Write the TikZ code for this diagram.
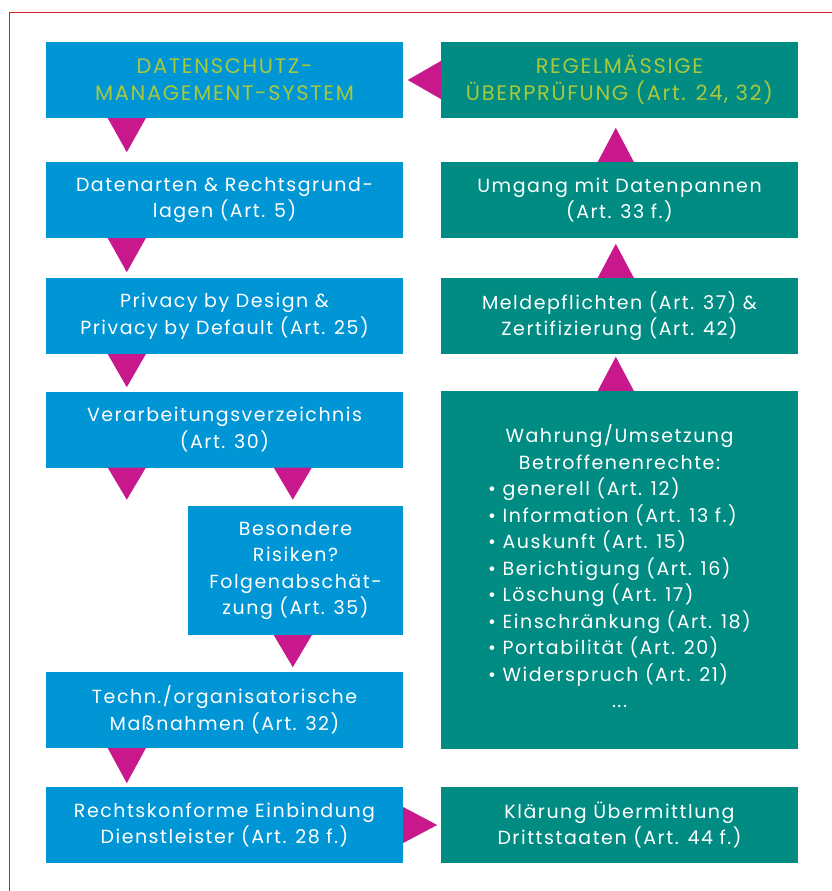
\documentclass[tikz,border=0pt]{standalone}
\usepackage{fontspec}
\setmainfont{Poppins}[LetterSpace=8]
\definecolor{dsblau}{HTML}{0096D6}
\definecolor{dsgruen}{HTML}{008C82}
\definecolor{dspink}{HTML}{C8188C}
\definecolor{dslime}{HTML}{A8C83C}
\definecolor{dsrot}{HTML}{D2202A}
\tikzset{
  kasten/.style={fill=#1, text=white, minimum width=357pt, minimum height=76pt,
    inner sep=0pt, align=center, font=\fontsize{19}{26.5}\selectfont},
  titel/.style={text=dslime, font=\fontsize{21}{27}\selectfont},
  pfeil/.style={fill=dspink}
}
\begin{document}
\begin{tikzpicture}[x=1pt,y=1pt]
   \useasboundingbox (0,0) rectangle (832,-891);
   \draw[dsrot,line width=1.2pt] (9.5,-891) -- (9.5,-12.5) -- (832,-12.5);
   % linke Spalte
   \node[kasten=dsblau,titel] (dms) at (224.5,-80) {DATENSCHUTZ-\\MANAGEMENT-SYSTEM};
   \node[kasten=dsblau] (arten) at (224.5,-200) {Datenarten \& Rechtsgrund-\\lagen (Art. 5)};
   \node[kasten=dsblau] (privacy) at (224.5,-316) {Privacy by Design \&\\Privacy by Default (Art. 25)};
   \node[kasten=dsblau] (verz) at (224.5,-429.5) {Verarbeitungsverzeichnis\\(Art. 30)};
   \node[kasten=dsblau,minimum width=215pt,minimum height=129pt] (risiko) at (295.5,-570.5) {Besondere\\Risiken?\\Folgenabschät-\\zung (Art. 35)};
   \node[kasten=dsblau] (massn) at (224.5,-710) {Techn./organisatorische\\Maßnahmen (Art. 32)};
   \node[kasten=dsblau] (dienst) at (224.5,-825) {Rechtskonforme Einbindung\\Dienstleister (Art. 28 f.)};
   % rechte Spalte
   \node[kasten=dsgruen,titel] (pruef) at (619.5,-80) {REGELMÄSSIGE\\ÜBERPRÜFUNG (Art. 24, 32)};
   \node[kasten=dsgruen] (pannen) at (619.5,-200) {Umgang mit Datenpannen\\(Art. 33 f.)};
   \node[kasten=dsgruen] (melde) at (619.5,-316) {Meldepflichten (Art. 37) \&\\Zertifizierung (Art. 42)};
   \node[kasten=dsgruen,minimum height=358pt] (rechte) at (619.5,-570) {%
     \begin{tabular}{@{}l@{}}
       \multicolumn{1}{@{}c@{}}{Wahrung/Umsetzung}\\
       \multicolumn{1}{@{}c@{}}{Betroffenenrechte:}\\
       • generell (Art. 12)\\
       • Information (Art. 13 f.)\\
       • Auskunft (Art. 15)\\
       • Berichtigung (Art. 16)\\
       • Löschung (Art. 17)\\
       • Einschränkung (Art. 18)\\
       • Portabilität (Art. 20)\\
       • Widerspruch (Art. 21)\\
       \multicolumn{1}{@{}c@{}}{...}
     \end{tabular}};
   \node[kasten=dsgruen] (dritt) at (619.5,-825) {Klärung Übermittlung\\Drittstaaten (Art. 44 f.)};
   % Pfeile links
   \fill[pfeil] (dms.south west) ++(62,0) -- ++(38,0) -- ++(-19,-34) -- cycle;
   \fill[pfeil] (arten.south west) ++(62,0) -- ++(38,0) -- ++(-19,-34) -- cycle;
   \fill[pfeil] (privacy.south west) ++(62,0) -- ++(38,0) -- ++(-19,-33) -- cycle;
   \fill[pfeil] (verz.south west) ++(62,0) -- ++(38,0) -- ++(-19,-32) -- cycle;
   \fill[pfeil] (verz.south west) ++(228,0) -- ++(38,0) -- ++(-19,-32) -- cycle;
   \fill[pfeil] (risiko.south west) ++(86,0) -- ++(38,0) -- ++(-19,-32) -- cycle;
   \fill[pfeil] (massn.south west) ++(62,0) -- ++(38,0) -- ++(-19,-35) -- cycle;
   \fill[pfeil] (dienst.east) ++(0,18) -- ++(34,-18) -- ++(-34,-18) -- cycle;
   % Pfeile rechts
   \fill[pfeil] (rechte.north west) ++(157,0) -- ++(36,0) -- ++(-18,34) -- cycle;
   \fill[pfeil] (melde.north west) ++(157,0) -- ++(36,0) -- ++(-18,34) -- cycle;
   \fill[pfeil] (pannen.north west) ++(157,0) -- ++(36,0) -- ++(-18,34) -- cycle;
   \fill[pfeil] (pruef.west) ++(0,19) -- ++(-33,-19) -- ++(33,-19) -- cycle;
\end{tikzpicture}
\end{document}
